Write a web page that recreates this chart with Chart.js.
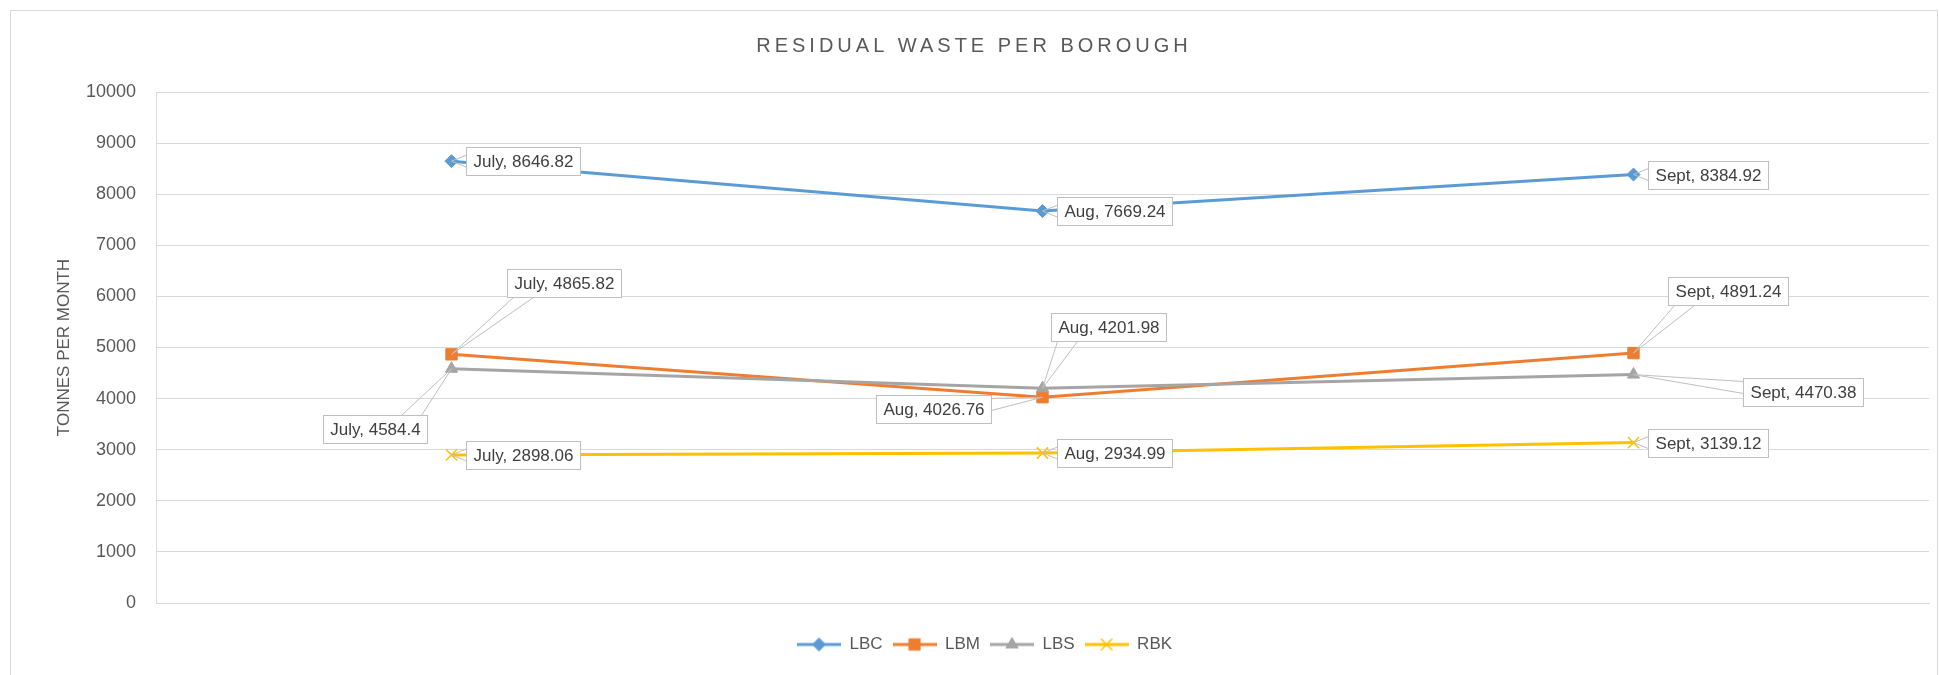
<!DOCTYPE html>
<html>
<head>
<meta charset="utf-8">
<script src="https://cdn.jsdelivr.net/npm/chart.js@4/dist/chart.umd.min.js"></script>
<style>
  body { margin: 0; background: #fff; }
  #wrap { width: 1939px; height: 675px; }
</style>
</head>
<body>
<div id="wrap"><canvas id="wasteChart" width="1939" height="675"></canvas></div>
<script>
var months = ["July", "Aug", "Sept"];
var boroughs = ["LBC", "LBM", "LBS", "RBK"];
var lbc = [8646.82, 7669.24, 8384.92];
var lbm = [4865.82, 4026.76, 4891.24];
var lbs = [4584.4, 4201.98, 4470.38];
var rbk = [2898.06, 2934.99, 3139.12];

var colours = ["#5B9BD5", "#ED7D31", "#A5A5A5", "#FFC000"];
var markers = ["rectRot", "rect", "triangle", "crossRot"];
var markerSize = [6.5, 8, 7, 8];

// where each callout box sits, relative to its point ('r' = just to the right)
var calloutPos = [
  ["r", "r", "r"],
  [[112, -71], [-109, 12], [94, -62]],
  [[-76, 60], [66, -61], [169, 17]],
  ["r", "r", "r"]
];

var FONT = "'Liberation Sans', Arial, sans-serif";

// little line + marker picture for the legend
function legendIcon(i) {
  var c = document.createElement("canvas");
  c.width = 44; c.height = 18;
  var g = c.getContext("2d");
  g.strokeStyle = colours[i];
  g.lineWidth = 3;
  g.beginPath(); g.moveTo(0, 9); g.lineTo(44, 9); g.stroke();
  g.fillStyle = colours[i];
  g.lineWidth = markers[i] == "crossRot" ? 1.5 : 1;
  Chart.helpers.drawPoint(g, {pointStyle: markers[i], radius: markerSize[i], borderWidth: g.lineWidth}, 22, 9);
  return c;
}

var frame = {
  id: "frame",
  beforeDraw: function(chart) {
    var ctx = chart.ctx;
    ctx.save();
    ctx.fillStyle = "#fff";
    ctx.fillRect(0, 0, chart.width, chart.height);
    ctx.strokeStyle = "#D9D9D9";
    ctx.lineWidth = 1;
    ctx.strokeRect(10.5, 10.5, 1927, 700);
    ctx.fillStyle = "#595959";
    ctx.font = "20px " + FONT;
    ctx.letterSpacing = "4px";
    ctx.textAlign = "center";
    ctx.textBaseline = "middle";
    ctx.fillText("RESIDUAL WASTE PER BOROUGH", 974, 46);
    ctx.restore();
  }
};

var callouts = {
  id: "callouts",
  afterDatasetsDraw: function(chart) {
    var ctx = chart.ctx;
    ctx.save();
    ctx.font = "17px " + FONT;
    ctx.textBaseline = "middle";
    ctx.textAlign = "center";
    chart.data.datasets.forEach(function(ds, d) {
      var meta = chart.getDatasetMeta(d);
      meta.data.forEach(function(pt, i) {
        var txt = months[i] + ", " + ds.data[i];
        var w = ctx.measureText(txt).width + 14;
        var h = 28;
        var pos = calloutPos[d][i];
        var cx, cy;
        if (pos == "r") { cx = pt.x + 14 + w / 2; cy = pt.y; }
        else { cx = pt.x + pos[0]; cy = pt.y + pos[1]; }
        var L = Math.round(cx - w / 2) + 0.5, T = Math.round(cy - h / 2) + 0.5;
        var R = L + Math.round(w), B = T + h;
        // pick the edge the pointer leaves from
        var base;
        if (Math.abs(pt.y - cy) - h / 2 > 12) {
          var ey = pt.y > cy ? B : T;
          var x0 = Math.min(Math.max(pt.x - 10, L + 6), R - 26);
          base = [[x0, ey], [x0 + 20, ey]];
        } else {
          var ex = pt.x > cx ? R : L;
          var y0 = Math.min(Math.max(pt.y - 6, T + 3), B - 15);
          base = [[ex, y0], [ex, y0 + 12]];
        }
        ctx.fillStyle = "#fff";
        ctx.strokeStyle = "#BFBFBF";
        ctx.lineWidth = 1;
        ctx.fillRect(L, T, R - L, B - T);
        ctx.strokeRect(L, T, R - L, B - T);
        ctx.beginPath();
        ctx.moveTo(base[0][0], base[0][1]);
        ctx.lineTo(pt.x, pt.y);
        ctx.lineTo(base[1][0], base[1][1]);
        ctx.stroke();
        ctx.fillStyle = "#404040";
        ctx.fillText(txt, (L + R) / 2, (T + B) / 2 + 1);
      });
    });
    ctx.restore();
  }
};

var series = [lbc, lbm, lbs, rbk];
var datasets = series.map(function(vals, i) {
  return {
    label: boroughs[i],
    data: vals,
    borderColor: colours[i],
    backgroundColor: colours[i],
    borderWidth: 3,
    pointStyle: markers[i],
    pointRadius: markerSize[i],
    pointBorderWidth: markers[i] == "crossRot" ? 1.5 : 1,
    pointBackgroundColor: colours[i],
    pointBorderColor: colours[i],
    tension: 0,
    order: 3 - i
  };
});

var chart = new Chart(document.getElementById("wasteChart"), {
  type: "line",
  data: { labels: months, datasets: datasets },
  options: {
    responsive: false,
    animation: false,
    layout: { padding: { left: 40, right: 10, top: 92, bottom: 12 } },
    plugins: {
      title: { display: false },
      tooltip: { enabled: false },
      legend: {
        position: "bottom",
        labels: {
          usePointStyle: true,
          pointStyleWidth: 44,
          padding: 10,
          color: "#595959",
          font: { size: 17, family: FONT },
          generateLabels: function(c) {
            return c.data.datasets.map(function(ds, i) {
              return { text: ds.label, pointStyle: legendIcon(i), fillStyle: colours[i], strokeStyle: colours[i], lineWidth: 0, hidden: false, datasetIndex: i, fontColor: "#595959" };
            });
          }
        }
      }
    },
    scales: {
      x: {
        offset: true,
        grid: { display: false },
        border: { display: true, color: "#D9D9D9" },
        ticks: { display: false },
        afterFit: function(s) { s.height = 23; }
      },
      y: {
        min: 0,
        max: 10000,
        ticks: {
          stepSize: 1000, padding: 20, color: "#595959", font: { size: 18, family: FONT },
          callback: function(v) { return String(v); }
        },
        grid: { color: "#D9D9D9", drawTicks: false },
        border: { display: true, color: "#D9D9D9" },
        title: { display: true, text: "TONNES PER MONTH", color: "#595959", font: { size: 17, family: FONT }, padding: { top: 14, bottom: 0 } },
        afterFit: function(s) { s.width = 116; }
      }
    }
  },
  plugins: [frame, callouts]
});
</script>
</body>
</html>
